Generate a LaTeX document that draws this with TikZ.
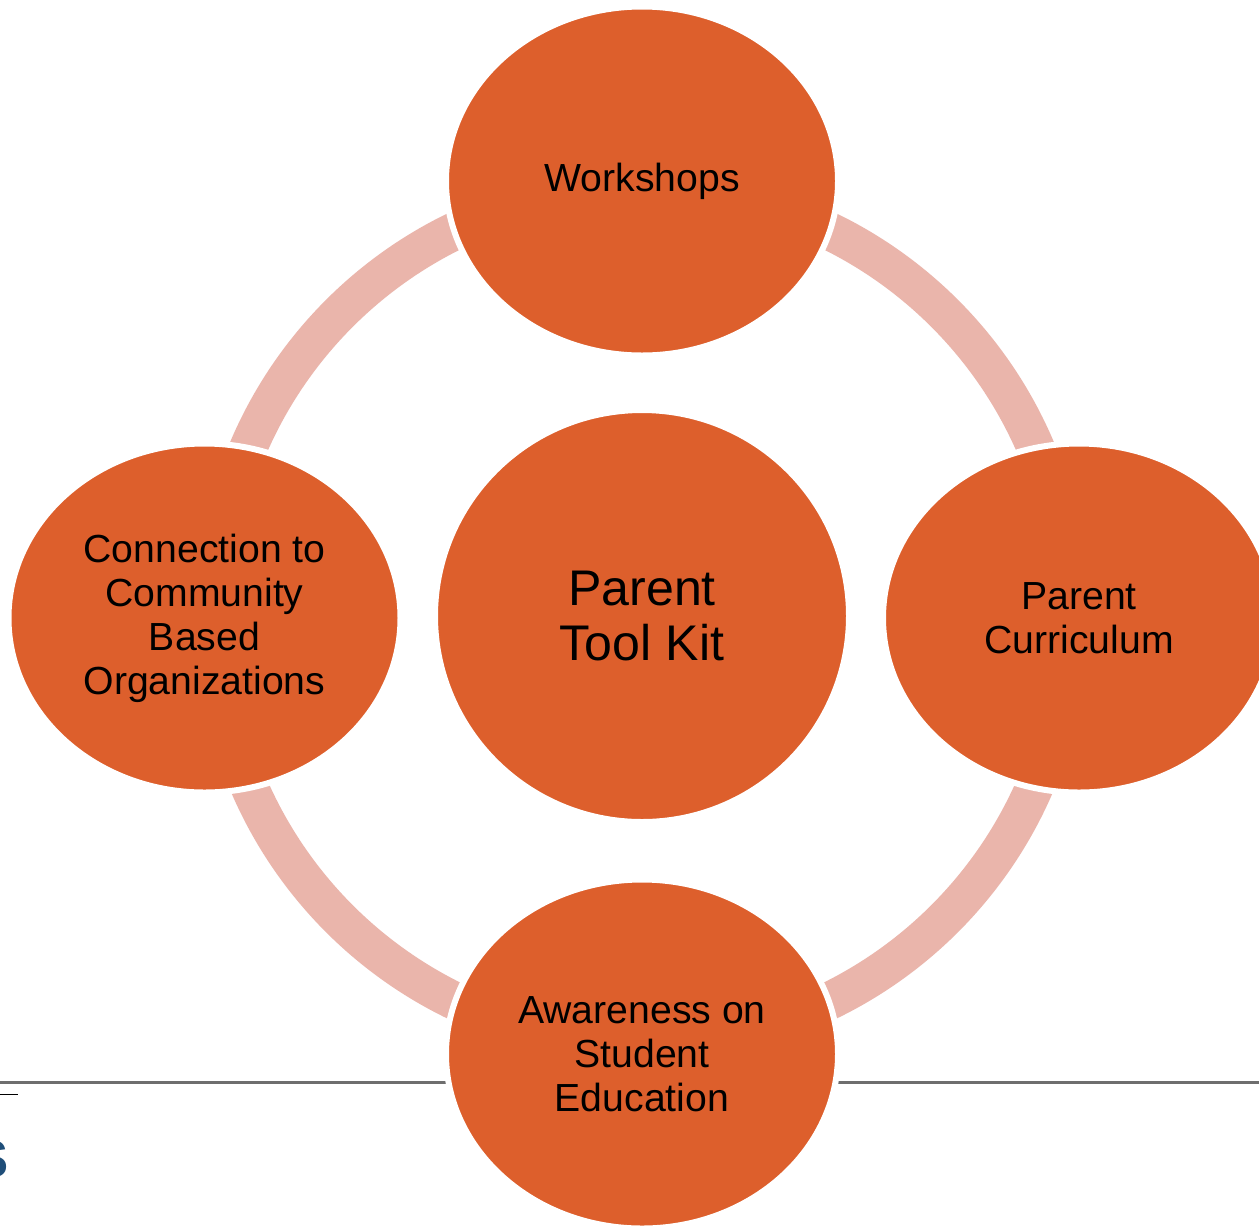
\documentclass[tikz,border=0pt]{standalone}
\usepackage{fontspec}
\setmainfont{Liberation Sans}
\usepackage{xcolor}
\usepackage{tikz}
\usetikzlibrary{shapes.geometric}
\definecolor{kitorange}{HTML}{DD5F2C}
\definecolor{ringpink}{HTML}{EAB5AB}
\definecolor{rulegray}{HTML}{6E6E6E}
\definecolor{logoblue}{HTML}{1F4E79}

\begin{document}
\begin{tikzpicture}[
  bubble/.style={ellipse,fill=kitorange,draw=white,line width=0.12cm,inner sep=0pt,
    minimum width=7.84cm,minimum height=6.98cm,align=center,
    font=\fontsize{22.3}{25}\selectfont},
  hub/.style={bubble,minimum width=8.28cm,minimum height=8.24cm,
    font=\fontsize{28.5}{31.5}\selectfont},
  ring/.style={ringpink,line width=0.76cm}
]
\useasboundingbox[fill=white] (0,0) rectangle (25.18,-24.5);

% page rule behind the lower bubble
\coordinate (ruleL) at (0,-21.64);
\coordinate (ruleR) at (25.18,-21.64);
\draw[rulegray,line width=0.06cm] (ruleL) -- (ruleR);
\coordinate (tickL) at (0,-21.88);
\coordinate (tickR) at (0.36,-21.88);
\draw[black,line width=0.02cm] (tickL) -- (tickR);
\node[anchor=east,text=logoblue,inner sep=0pt,font=\fontsize{30}{30}\selectfont\bfseries] (logo) at (0.18,-23.18) {S};

% centre and the ring round it
\node[hub] (kit) at (12.84,-12.32) {Parent\\Tool Kit};
\draw[ring] (kit.center) circle (8.56);

% the four bubbles on the ring
\node[bubble] (work) at (12.84,-3.62) {Workshops};
\node[bubble] (curr) at (21.58,-12.36) {Parent\\Curriculum};
\node[bubble] (aware) at (12.84,-21.08) {Awareness on\\Student\\Education};
\node[bubble] (comm) at (4.09,-12.36) {Connection to\\Community\\Based\\Organizations};
\end{tikzpicture}
\end{document}
